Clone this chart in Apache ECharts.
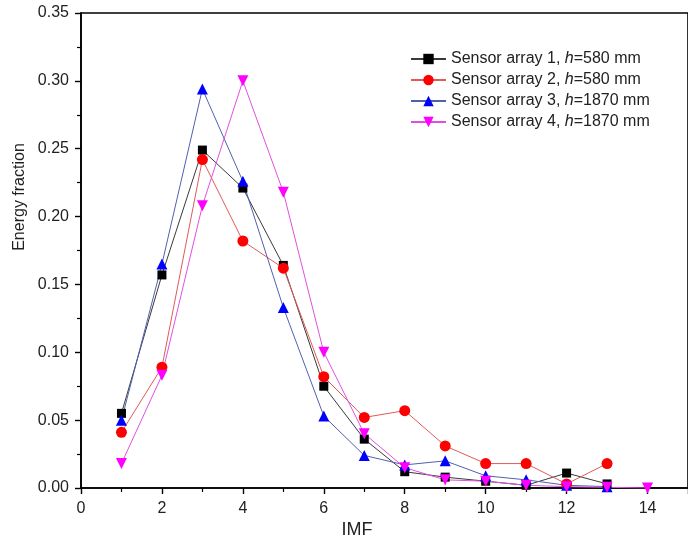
<!DOCTYPE html>
<html>
<head>
<meta charset="utf-8">
<script src="https://cdn.jsdelivr.net/npm/echarts@6/dist/echarts.min.js"></script>
<style>
  html, body { margin: 0; padding: 0; background: #fff; }
  #chart { width: 688px; height: 547px; }
</style>
</head>
<body>
<div id="chart"></div>
<script>
// IMF index on the x axis
const imf = [1, 2, 3, 4, 5, 6, 7, 8, 9, 10, 11, 12, 13, 14];

// Energy fraction per IMF for each sensor array
const array1 = [0.055, 0.157, 0.249, 0.221, 0.164, 0.075, 0.036, 0.012, 0.008, 0.005, 0.002, 0.011, 0.003];
const array2 = [0.041, 0.089, 0.242, 0.182, 0.162, 0.082, 0.052, 0.057, 0.031, 0.018, 0.018, 0.003, 0.018];
const array3 = [0.050, 0.165, 0.294, 0.226, 0.133, 0.053, 0.024, 0.017, 0.020, 0.009, 0.006, 0.002, 0.001];
const array4 = [0.018, 0.083, 0.208, 0.300, 0.218, 0.100, 0.040, 0.015, 0.006, 0.005, 0.002, 0.001, 0.0005, 0.0];

// Legend labels: prefix, italic symbol, suffix
const seriesNames = ['Sensor array 1', 'Sensor array 2', 'Sensor array 3', 'Sensor array 4'];
const heights = ['=580 mm', '=580 mm', '=1870 mm', '=1870 mm'];

// Axis ticks
const xTicks = [0, 2, 4, 6, 8, 10, 12, 14];
const yTicks = [0, 0.05, 0.10, 0.15, 0.20, 0.25, 0.30, 0.35];

const toPairs = vals => vals.map((v, i) => [imf[i], v]);

const downTriangle = 'path://M0,0 L10,0 L5,9 Z';

const styles = [
  { symbol: 'rect', size: 9, marker: '#000000', line: '#3a3a3a' },
  { symbol: 'circle', size: 11, marker: '#ff0000', line: '#e05a5a' },
  { symbol: 'triangle', size: 11, marker: '#0000ff', line: '#5060b0' },
  { symbol: downTriangle, size: 11, marker: '#ff00ff', line: '#e050e0' }
];
const values = [array1, array2, array3, array4];

const series = values.map((vals, k) => ({
  name: seriesNames[k],
  type: 'line',
  data: toPairs(vals),
  symbol: styles[k].symbol,
  symbolSize: styles[k].size,
  showAllSymbol: true,
  lineStyle: { color: styles[k].line, width: 1 },
  itemStyle: { color: styles[k].marker, borderWidth: 0 },
  emphasis: { disabled: true },
  animation: false
}));

const font = 'Liberation Sans, Arial, sans-serif';

const chart = echarts.init(document.getElementById('chart'), null, { renderer: 'canvas' });

chart.setOption({
  backgroundColor: '#ffffff',
  animation: false,
  grid: {
    left: 81, top: 13, right: -8, bottom: 59,
    show: true, borderColor: '#000', borderWidth: 1.6, backgroundColor: 'transparent'
  },
  legend: {
    orient: 'vertical',
    left: 410,
    top: 51,
    padding: 0,
    itemWidth: 35,
    itemHeight: 13,
    itemGap: 5,
    data: seriesNames,
    formatter: name => {
      const k = seriesNames.indexOf(name);
      return '{n|' + name + ', }{i|h}{n|' + heights[k] + '}';
    },
    textStyle: {
      fontFamily: font,
      fontSize: 16,
      color: '#222',
      lineHeight: 16,
      rich: {
        n: { fontFamily: font, fontSize: 16, color: '#222', lineHeight: 16 },
        i: { fontFamily: font, fontSize: 16, color: '#222', fontStyle: 'italic', lineHeight: 16 }
      }
    }
  },
  xAxis: {
    type: 'value',
    min: 0,
    max: 15,
    interval: 2,
    axisLine: { show: true, onZero: false, lineStyle: { color: '#000', width: 1.6 } },
    axisTick: { show: true, inside: false, length: 6, lineStyle: { color: '#000', width: 1.4 } },
    minorTick: { show: true, splitNumber: 2, length: 4, lineStyle: { color: '#000', width: 1.2 } },
    splitLine: { show: false },
    axisLabel: {
      margin: 13,
      fontFamily: font,
      fontSize: 16,
      color: '#222',
      showMaxLabel: false,
      formatter: v => (xTicks.indexOf(v) >= 0 ? String(v) : '')
    }
  },
  yAxis: {
    type: 'value',
    min: 0,
    max: 0.35,
    interval: 0.05,
    axisLine: { show: true, onZero: false, lineStyle: { color: '#000', width: 1.6 } },
    axisTick: { show: true, inside: false, length: 6, lineStyle: { color: '#000', width: 1.4 } },
    minorTick: { show: true, splitNumber: 2, length: 4, lineStyle: { color: '#000', width: 1.2 } },
    splitLine: { show: false },
    axisLabel: {
      margin: 12,
      fontFamily: font,
      fontSize: 16,
      color: '#222',
      formatter: v => {
        const t = yTicks.find(y => Math.abs(y - v) < 1e-9);
        return t === undefined ? '' : t.toFixed(2);
      }
    }
  },
  graphic: [
    {
      type: 'text',
      x: 20, y: 197,
      rotation: Math.PI / 2,
      style: {
        text: 'Energy fraction',
        fontFamily: font,
        fontSize: 16,
        fill: '#222',
        align: 'center',
        verticalAlign: 'middle'
      }
    },
    {
      type: 'text',
      x: 357, y: 530,
      style: {
        text: 'IMF',
        fontFamily: font,
        fontSize: 18,
        fill: '#222',
        align: 'center',
        verticalAlign: 'middle'
      }
    }
  ],
  series: series
});
</script>
</body>
</html>
